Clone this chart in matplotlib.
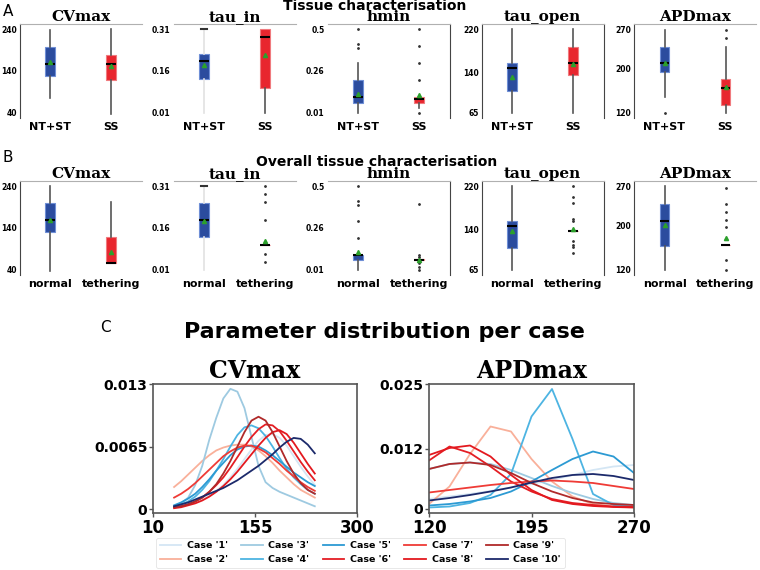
import matplotlib.pyplot as plt
import numpy as np

# ---- panels A / B : box statistics ----
params = ['CVmax', 'tau_in', 'hmin', 'tau_open', 'APDmax']
tick_vals = [[40, 140, 240], [0.01, 0.16, 0.31], [0.01, 0.26, 0.5], [65, 140, 220], [120, 200, 270]]
tick_txt = [['40', '140', '240'], ['0.01', '0.16', '0.31'], ['0.01', '0.26', '0.5'],
            ['65', '140', '220'], ['120', '200', '270']]

a_groups = ['NT+ST', 'SS']
a_q1 = [[127, 118], [0.131, 0.10], [0.071, 0.071], [105, 136], [194, 135]]
a_q3 = [[197, 177], [0.219, 0.31], [0.202, 0.102], [157, 187], [237, 180]]
a_med = [[157, 157], [0.194, 0.283], [0.102, 0.093], [148, 158], [209, 164]]
a_mean = [[161, 152], [0.183, 0.218], [0.119, 0.116], [131, 155], [209, 167]]
a_lo = [[76, 38], [0.01, 0.01], [0.01, 0.039], [65, 65], [149, 120]]
a_hi = [[238, 240], [0.31, 0.31], [0.304, 0.102], [220, 220], [268, 238]]
a_fliers = [[[], []], [[], []], [[0.5, 0.41, 0.39], [0.5, 0.40, 0.30, 0.20, 0.01]],
            [[], []], [[120], [269, 254]]]

b_groups = ['normal', 'tethering']
b_q1 = [[130, 57], [0.129, 0.098], [0.067, 0.067], [106, 137], [163, 164]]
b_q3 = [[199, 118], [0.249, 0.098], [0.096, 0.072], [156, 137], [237, 164]]
b_med = [[159, 57], [0.189, 0.098], [0.096, 0.067], [147, 137], [208, 164]]
b_mean = [[159, 83], [0.185, 0.112], [0.115, 0.071], [137, 140], [201, 177]]
b_lo = [[38, 57], [0.01, 0.098], [0.01, 0.067], [65, 137], [120, 164]]
b_hi = [[240, 201], [0.31, 0.098], [0.096, 0.072], [220, 137], [270, 164]]
b_fliers = [[[], []],
            [[], [0.31, 0.28, 0.252, 0.189, 0.068, 0.039]],
            [[0.5, 0.41, 0.39, 0.296, 0.195], [0.395, 0.10, 0.086, 0.052, 0.029, 0.01]],
            [[], [220, 199, 189, 159, 156, 119, 112, 107, 97]],
            [[], [266, 238, 223, 209, 196, 137, 120]]]

# ---- panel C : distribution curves per case ----
cv_x = [40, 50, 60, 70, 80, 90, 100, 110, 120, 130, 140, 150, 160, 170, 180, 190, 200, 210, 220, 230, 240]
cv_case1 = [.0002, .0003, .0005, .0007, .0010, .0014, .0019, .0025, .0033, .0042, .0052, .0062, .0071, .0077, .0078, .0074, .0066, .0055, .0044, .0034, .0025]
cv_case2 = [.0023, .0029, .0036, .0043, .0050, .0056, .0061, .0064, .0066, .0067, .0067, .0065, .0061, .0055, .0048, .0040, .0033, .0026, .0020, .0016, .0012]
cv_case3 = [.0003, .0006, .0012, .0025, .0045, .0072, .0095, .0115, .0125, .0122, .0105, .0075, .0045, .0028, .0022, .0018, .0015, .0012, .0009, .0006, .0003]
cv_case4 = [.0003, .0005, .0008, .0013, .0020, .0029, .0040, .0052, .0065, .0077, .0085, .0087, .0084, .0076, .0065, .0053, .0042, .0033, .0026, .0020, .0016]
cv_case5 = [.0004, .0007, .0011, .0016, .0023, .0031, .0040, .0048, .0056, .0062, .0065, .0066, .0065, .0061, .0056, .0050, .0044, .0038, .0033, .0028, .0024]
cv_case6 = [.0002, .0003, .0005, .0008, .0012, .0018, .0025, .0033, .0043, .0054, .0065, .0075, .0083, .0088, .0087, .0081, .0071, .0060, .0049, .0039, .0030]
cv_case7 = [.0012, .0016, .0021, .0027, .0034, .0041, .0048, .0055, .0060, .0064, .0066, .0066, .0063, .0059, .0053, .0047, .0040, .0034, .0028, .0023, .0019]
cv_case8 = [.0001, .0002, .0004, .0006, .0009, .0013, .0018, .0024, .0031, .0039, .0048, .0057, .0066, .0074, .0080, .0082, .0078, .0069, .0058, .0047, .0037]
cv_case9 = [.0002, .0003, .0005, .0008, .0012, .0018, .0026, .0037, .0050, .0065, .0080, .0092, .0096, .0092, .0080, .0065, .0050, .0037, .0027, .0020, .0016]
cv_case10 = [.0003, .0005, .0007, .0010, .0013, .0016, .0019, .0022, .0026, .0030, .0035, .0040, .0045, .0051, .0057, .0064, .0070, .0074, .0073, .0067, .0058]

apd_x = [120, 135, 150, 165, 180, 195, 210, 225, 240, 255, 270]
apd_case1 = [.0020, .0025, .0030, .0036, .0043, .0050, .0058, .0068, .0078, .0085, .0088]
apd_case2 = [.0010, .0045, .0110, .0165, .0155, .0100, .0055, .0025, .0010, .0005, .0003]
apd_case3 = [.0080, .0090, .0093, .0090, .0078, .0062, .0046, .0032, .0020, .0012, .0008]
apd_case4 = [.0003, .0005, .0012, .0028, .0070, .0185, .0240, .0140, .0030, .0008, .0005]
apd_case5 = [.0007, .0010, .0015, .0022, .0035, .0055, .0078, .0100, .0115, .0105, .0072]
apd_case6 = [.0097, .0125, .0112, .0085, .0055, .0035, .0020, .0012, .0008, .0005, .0004]
apd_case7 = [.0033, .0038, .0043, .0048, .0052, .0055, .0057, .0055, .0052, .0046, .0040]
apd_case8 = [.0108, .0122, .0127, .0105, .0068, .0038, .0018, .0010, .0006, .0004, .0003]
apd_case9 = [.0080, .0090, .0093, .0088, .0072, .0052, .0035, .0022, .0013, .0010, .0008]
apd_case10 = [.0017, .0022, .0028, .0035, .0043, .0053, .0062, .0068, .0070, .0066, .0058]

case_labels = ["Case '1'", "Case '2'", "Case '3'", "Case '4'", "Case '5'",
               "Case '6'", "Case '7'", "Case '8'", "Case '9'", "Case '10'"]
case_colors = ['#d4e6f4', '#f9b09a', '#9ecae1', '#4db4e2', '#2c9ad3',
               '#e41e24', '#ef3b36', '#e3191f', '#b02a2a', '#1c2a6b']

cv_cases = [cv_case1, cv_case2, cv_case3, cv_case4, cv_case5, cv_case6, cv_case7, cv_case8, cv_case9, cv_case10]
apd_cases = [apd_case1, apd_case2, apd_case3, apd_case4, apd_case5, apd_case6, apd_case7, apd_case8, apd_case9, apd_case10]

BLUE = '#2b4c9e'
RED = '#e8262e'

fig = plt.figure(figsize=(7.6, 5.7), dpi=100)
W, H = 760.0, 570.0


def px_axes(left, top, width, height):
    return fig.add_axes([left / W, 1 - (top + height) / H, width / W, height / H])


lefts = [19.5, 173.5, 327.5, 481.5, 634]
left_spine = [True, False, False, True, True]
right_spine = [False, False, True, True, False]


def box_row(top, groups, q1, q3, med, mean, lo, hi, fliers):
    for k in range(5):
        ax = px_axes(lefts[k], top, 122, 94)
        stats = []
        for i in range(2):
            stats.append(dict(q1=q1[k][i], q3=q3[k][i], med=med[k][i], mean=mean[k][i],
                              whislo=lo[k][i], whishi=hi[k][i], fliers=fliers[k][i]))
        art = ax.bxp(stats, positions=[0, 1], widths=0.15, patch_artist=True,
                     showmeans=True, capwidths=0.1,
                     medianprops=dict(color='black', linewidth=1.5),
                     whiskerprops=dict(color='#555555', linewidth=1.2),
                     capprops=dict(color='#333333', linewidth=1.5),
                     meanprops=dict(marker='^', markerfacecolor='#2ca02c',
                                    markeredgecolor='#2ca02c', markersize=3),
                     flierprops=dict(marker='.', markersize=2, markerfacecolor='#333333',
                                     markeredgecolor='#333333', linestyle='none'))
        for i, b in enumerate(art['boxes']):
            b.set_facecolor(BLUE if i == 0 else RED)
            b.set_edgecolor('#6f8fd6' if i == 0 else '#f07a7e')
            b.set_linewidth(0.8)
        for c in art['caps']:
            c.set_visible(False)
        if k == 1:
            # light whisker with a dark top cap on the first group
            art['whiskers'][0].set_color('#e2e2e2')
            art['whiskers'][1].set_color('#e2e2e2')
            art['caps'][1].set_visible(True)
        lo_v, hi_v = tick_vals[k][0], tick_vals[k][-1]
        r = hi_v - lo_v
        ax.set_ylim(lo_v - 0.06 * r, hi_v + 0.06 * r)
        ax.set_xlim(-0.5, 1.5)
        ax.set_yticks(tick_vals[k])
        ax.set_yticklabels(tick_txt[k], fontsize=5.5, fontweight='bold')
        ax.set_xticks([0, 1])
        ax.set_xticklabels(groups, fontsize=8, fontweight='bold')
        ax.tick_params(length=0, pad=2)
        ax.tick_params(axis='x', pad=3)
        ax.spines['bottom'].set_visible(False)
        ax.spines['top'].set_color('#b0b0b0')
        ax.spines['left'].set_visible(left_spine[k])
        ax.spines['left'].set_color('#444444')
        ax.spines['right'].set_visible(right_spine[k])
        ax.spines['right'].set_color('#444444')
        ax.set_title(params[k], fontfamily='DejaVu Serif', fontweight='bold', fontsize=11, pad=2)


box_row(24, a_groups, a_q1, a_q3, a_med, a_mean, a_lo, a_hi, a_fliers)
box_row(181, b_groups, b_q1, b_q3, b_med, b_mean, b_lo, b_hi, b_fliers)

fig.text(375 / W, 1 - 6.5 / H, 'Tissue characterisation', ha='center', va='center',
         fontsize=10, fontweight='bold')
fig.text(377 / W, 1 - 161.5 / H, 'Overall tissue characterisation', ha='center', va='center',
         fontsize=10, fontweight='bold')
fig.text(3 / W, 1 - 12 / H, 'A', ha='left', va='center', fontsize=11)
fig.text(3 / W, 1 - 158 / H, 'B', ha='left', va='center', fontsize=11)
fig.text(100 / W, 1 - 328 / H, 'C', ha='left', va='center', fontsize=11)
fig.text(384 / W, 1 - 332 / H, 'Parameter distribution per case', ha='center', va='center',
         fontsize=16, fontweight='bold')

# ---- panel C ----
ax1 = px_axes(153, 384, 204, 129)
for ys, col, lab in zip(cv_cases, case_colors, case_labels):
    ax1.plot(cv_x, ys, color=col, linewidth=1.3, label=lab)
ax1.set_xlim(10, 300)
ax1.set_ylim(-0.0004, 0.013)
ax1.set_xticks([10, 155, 300])
ax1.set_xticklabels(['10', '155', '300'], fontsize=12, fontweight='bold')
ax1.set_yticks([0, 0.0065, 0.013])
ax1.set_yticklabels(['0', '0.0065', '0.013'], fontsize=10, fontweight='bold')
ax1.set_title('CVmax', fontfamily='DejaVu Serif', fontweight='bold', fontsize=17, pad=4)

ax2 = px_axes(429, 384, 205, 129)
for ys, col, lab in zip(apd_cases, case_colors, case_labels):
    ax2.plot(apd_x, ys, color=col, linewidth=1.3, label=lab)
ax2.set_xlim(120, 270)
ax2.set_ylim(-0.0008, 0.025)
ax2.set_xticks([120, 195, 270])
ax2.set_xticklabels(['120', '195', '270'], fontsize=12, fontweight='bold')
ax2.set_yticks([0, 0.012, 0.025])
ax2.set_yticklabels(['0', '0.012', '0.025'], fontsize=10, fontweight='bold')
ax2.set_title('APDmax', fontfamily='DejaVu Serif', fontweight='bold', fontsize=17, pad=4)

for ax in (ax1, ax2):
    for s in ax.spines.values():
        s.set_color('#555555')
        s.set_linewidth(1.2)
    ax.tick_params(length=3, width=1, color='#555555', pad=1)

handles, labels = ax1.get_legend_handles_labels()
leg = fig.legend(handles, labels, loc='upper left', bbox_to_anchor=(151 / W, 1 - 533 / H),
                 ncol=5, prop=dict(size=6.8, weight='bold'), handlelength=2.3,
                 handletextpad=0.6, columnspacing=1.4, labelspacing=0.5,
                 borderpad=0.4, frameon=True)
leg.get_frame().set_edgecolor('#dddddd')
leg.get_frame().set_linewidth(0.6)

fig.savefig('out.png', dpi=100)
